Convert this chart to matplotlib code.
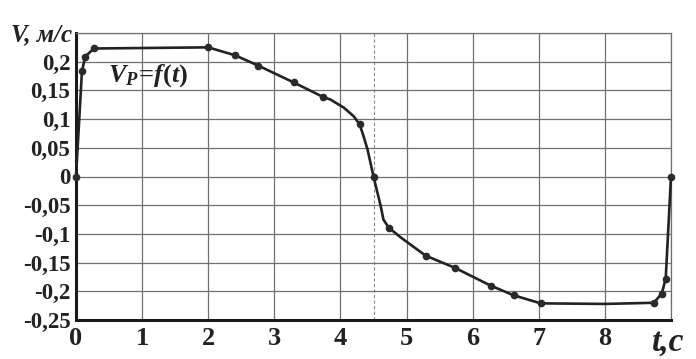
import matplotlib.pyplot as plt
import matplotlib.ticker as mticker

# measured points (markers)
t_pts = [0.0, 0.09, 0.14, 0.27, 2.0, 2.41, 2.76, 3.29, 3.73, 4.29, 4.5,
         4.73, 5.29, 5.73, 6.27, 6.62, 7.03, 8.74, 8.86, 8.92, 9.0]
v_pts = [0.0, 0.183, 0.209, 0.223, 0.225, 0.211, 0.193, 0.164, 0.139, 0.091, 0.0,
         -0.089, -0.138, -0.159, -0.19, -0.207, -0.221, -0.22, -0.204, -0.178, 0.0]

# curve trace (includes the smooth bend around 4.5 s)
t_line = [0.0, 0.09, 0.14, 0.27, 2.0, 2.41, 2.76, 3.29, 3.73, 3.85, 4.05, 4.2,
          4.29, 4.35, 4.41, 4.5, 4.61, 4.65, 4.73, 4.91, 5.1, 5.29, 5.73,
          6.27, 6.62, 7.03, 8.0, 8.74, 8.86, 8.92, 9.0]
v_line = [0.0, 0.183, 0.209, 0.223, 0.225, 0.211, 0.193, 0.164, 0.139, 0.134, 0.12, 0.105,
          0.091, 0.07, 0.047, 0.0, -0.052, -0.075, -0.089, -0.106, -0.122, -0.138, -0.159,
          -0.19, -0.207, -0.221, -0.222, -0.22, -0.204, -0.178, 0.0]

x_ticks = [0, 1, 2, 3, 4, 5, 6, 7, 8, 9]
x_labels = ['0', '1', '2', '3', '4', '5', '6', '7', '8', '']
y_ticks = [-0.25, -0.2, -0.15, -0.1, -0.05, 0, 0.05, 0.1, 0.15, 0.2, 0.25]
y_labels = ['-0,25', '-0,2', '-0,15', '-0,1', '-0,05', '0', '0,05', '0,1', '0,15', '0,2', '']

plt.rcParams['mathtext.fontset'] = 'custom'
plt.rcParams['mathtext.it'] = 'Liberation Serif:italic:bold'
plt.rcParams['mathtext.rm'] = 'Liberation Serif:bold'

fig = plt.figure(figsize=(6.96, 3.59), dpi=100)
ax = fig.add_axes([76 / 696, 1 - 320 / 359, (671 - 76) / 696, (320 - 33) / 359])

ax.set_xlim(0, 9)
ax.set_ylim(-0.25, 0.25)
ax.set_xticks(x_ticks)
ax.set_yticks(y_ticks)
ax.xaxis.set_major_formatter(mticker.FixedFormatter(x_labels))
ax.yaxis.set_major_formatter(mticker.FixedFormatter(y_labels))
ax.grid(True, color='#707070', linewidth=0.9)
ax.tick_params(length=0)
ax.tick_params(axis='y', pad=4)
ax.tick_params(axis='x', pad=5)
for lab in ax.get_yticklabels():
    lab.set_fontfamily('Liberation Serif')
    lab.set_fontweight('bold')
    lab.set_fontsize(16.5)
    lab.set_color('#222222')
for lab in ax.get_xticklabels():
    lab.set_fontfamily('Liberation Serif')
    lab.set_fontweight('bold')
    lab.set_fontsize(19)
    lab.set_color('#222222')

for side in ['top', 'right']:
    ax.spines[side].set_color('#707070')
    ax.spines[side].set_linewidth(0.9)
for side in ['left', 'bottom']:
    ax.spines[side].set_color('#1a1a1a')
    ax.spines[side].set_linewidth(2.2)

ax.axvline(4.5, color='#8a8a8a', linewidth=0.8, linestyle=(0, (3, 2)), zorder=1)

ax.plot(t_line, v_line, color='#222222', linewidth=1.9, zorder=3, clip_on=False)
ax.plot(t_pts, v_pts, 'o', color='#2a2a2a', markersize=4.5, zorder=4, clip_on=False)

ax.text(0.48, 0.166, r'$V_P\!=\!f(t)$', fontsize=19, color='#222222', zorder=5)

fig.text(11 / 696, 1 - 41 / 359, 'V, м/с', family='Liberation Serif', style='italic',
         weight='bold', fontsize=18, color='#222222', va='baseline')
fig.text(652 / 696, 1 - 351 / 359, 't,c', family='Liberation Serif', style='italic',
         weight='bold', fontsize=24, color='#222222', va='baseline')

fig.savefig('out.png', dpi=100)
